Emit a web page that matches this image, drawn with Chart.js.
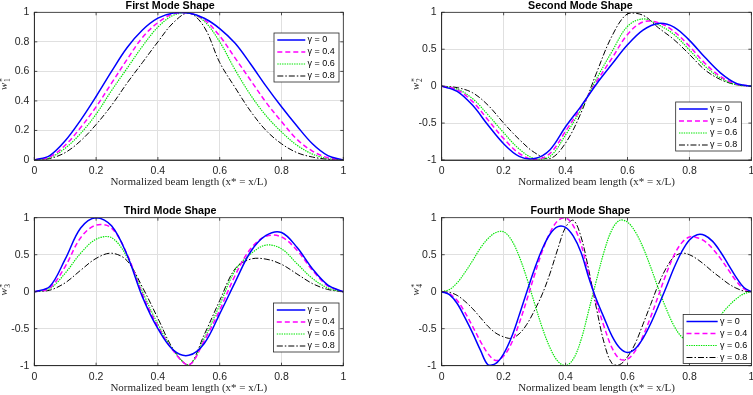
<!DOCTYPE html>
<html>
<head>
<meta charset="utf-8">
<script src="https://cdn.jsdelivr.net/npm/chart.js@4/dist/chart.umd.min.js"></script>
<style>
  html, body { margin: 0; padding: 0; background: #fff; overflow: hidden; width: 753px; height: 395px; }
  .panel { position: absolute; }
</style>
</head>
<body>
<div class="panel" style="left:-3px; top:0px; width:379px; height:190px"><canvas id="c1"></canvas></div>
<div class="panel" style="left:409px; top:0px; width:350px; height:190px"><canvas id="c2"></canvas></div>
<div class="panel" style="left:-3px; top:205px; width:379px; height:191px"><canvas id="c3"></canvas></div>
<div class="panel" style="left:409px; top:205px; width:350px; height:191px"><canvas id="c4"></canvas></div>
<script>
// legend labels (one per gamma value)
const gammaLabels = ['γ = 0', 'γ = 0.4', 'γ = 0.6', 'γ = 0.8'];

// x positions (normalized beam length)
const xGrid = [0, 0.05, 0.1, 0.15, 0.2, 0.25, 0.3, 0.35, 0.4, 0.45, 0.5,
               0.55, 0.6, 0.65, 0.7, 0.75, 0.8, 0.85, 0.9, 0.95, 1];
const xFine = [0, 0.025, 0.05, 0.075, 0.1, 0.125, 0.15, 0.175, 0.2, 0.225, 0.25,
               0.275, 0.3, 0.325, 0.35, 0.375, 0.4, 0.425, 0.45, 0.475, 0.5,
               0.525, 0.55, 0.575, 0.6, 0.625, 0.65, 0.675, 0.7, 0.725, 0.75,
               0.775, 0.8, 0.825, 0.85, 0.875, 0.9, 0.925, 0.95, 0.975, 1];

// first mode
const m1g00 = [0, 0.03, 0.13, 0.27, 0.43, 0.6, 0.76, 0.88, 0.96, 0.995, 0.995, 0.96, 0.89, 0.79, 0.65, 0.5, 0.36, 0.23, 0.11, 0.03, 0];
const m1g04 = [0, 0.02, 0.1, 0.22, 0.36, 0.52, 0.68, 0.83, 0.93, 0.99, 0.995, 0.95, 0.84, 0.69, 0.54, 0.39, 0.26, 0.14, 0.06, 0.015, 0];
const m1g06 = [0, 0.015, 0.08, 0.18, 0.31, 0.47, 0.62, 0.77, 0.9, 0.98, 0.995, 0.94, 0.8, 0.61, 0.44, 0.3, 0.19, 0.1, 0.04, 0.01, 0];
const m1g08 = [0, 0.01, 0.05, 0.13, 0.24, 0.37, 0.52, 0.66, 0.8, 0.93, 0.995, 0.9, 0.66, 0.49, 0.33, 0.2, 0.11, 0.05, 0.02, 0.005, 0];

// second mode
const m2g00 = [0, -0.07, -0.26, -0.53, -0.78, -0.95, -0.98, -0.86, -0.55, -0.27, 0.03, 0.3, 0.56, 0.76, 0.85, 0.8, 0.62, 0.39, 0.18, 0.04, 0];
const m2g04 = [0, -0.05, -0.21, -0.46, -0.71, -0.91, -0.995, -0.91, -0.61, -0.29, 0.06, 0.38, 0.7, 0.87, 0.86, 0.74, 0.54, 0.31, 0.13, 0.03, 0];
const m2g06 = [0, -0.04, -0.17, -0.39, -0.63, -0.85, -0.98, -0.95, -0.66, -0.31, 0.1, 0.47, 0.81, 0.91, 0.83, 0.7, 0.49, 0.27, 0.11, 0.02, 0];
const m2g08 = [0, -0.02, -0.09, -0.26, -0.5, -0.72, -0.9, -0.98, -0.77, -0.36, 0.18, 0.68, 0.98, 0.96, 0.79, 0.63, 0.43, 0.22, 0.09, 0.02, 0];

// third mode
const m3g00 = [0, 0.07, 0.44, 0.86, 1.0, 0.89, 0.5, -0.07, -0.5, -0.79, -0.86, -0.7, -0.3, 0.13, 0.54, 0.76, 0.8, 0.6, 0.31, 0.09, 0];
const m3g04 = [0, 0.05, 0.34, 0.73, 0.9, 0.86, 0.51, -0.04, -0.47, -0.8, -0.99, -0.66, -0.25, 0.22, 0.58, 0.75, 0.74, 0.56, 0.29, 0.08, 0];
const m3g06 = [0, 0.04, 0.25, 0.52, 0.71, 0.73, 0.47, 0.0, -0.44, -0.79, -0.99, -0.63, -0.18, 0.29, 0.51, 0.63, 0.58, 0.38, 0.18, 0.05, 0];
const m3g08 = [0, 0.02, 0.12, 0.29, 0.45, 0.52, 0.42, 0.06, -0.36, -0.78, -0.99, -0.58, -0.12, 0.31, 0.44, 0.44, 0.37, 0.24, 0.11, 0.03, 0];

// fourth mode (finer spacing)
const m4g00 = [0, -0.04, -0.16, -0.35, -0.56, -0.79, -0.99, -0.97, -0.84, -0.62, -0.32,
               0.0, 0.31, 0.58, 0.78, 0.88, 0.87, 0.75, 0.53, 0.19, -0.11,
               -0.36, -0.6, -0.76, -0.82, -0.77, -0.63, -0.43, -0.19, 0.06, 0.32,
               0.54, 0.7, 0.77, 0.76, 0.68, 0.54, 0.37, 0.2, 0.06, 0];
const m4g04 = [0, -0.03, -0.12, -0.28, -0.47, -0.67, -0.84, -0.93, -0.87, -0.7, -0.43,
               -0.11, 0.23, 0.55, 0.8, 0.96, 1.0, 0.89, 0.64, 0.23, -0.15,
               -0.48, -0.76, -0.91, -0.91, -0.8, -0.6, -0.34, -0.05, 0.24, 0.49,
               0.66, 0.74, 0.73, 0.68, 0.58, 0.45, 0.3, 0.15, 0.04, 0];
const m4g06 = [0, 0.03, 0.12, 0.26, 0.42, 0.59, 0.72, 0.8, 0.81, 0.7, 0.48,
               0.18, -0.16, -0.49, -0.76, -0.94, -1.0, -0.91, -0.65, -0.25, 0.16,
               0.55, 0.84, 0.965, 0.94, 0.81, 0.6, 0.33, 0.04, -0.23, -0.46,
               -0.61, -0.66, -0.64, -0.56, -0.45, -0.32, -0.2, -0.1, -0.03, 0];
const m4g08 = [0, -0.01, -0.05, -0.13, -0.23, -0.35, -0.47, -0.56, -0.61, -0.63, -0.57,
               -0.44, -0.25, -0.03, 0.25, 0.58, 0.87, 0.965, 0.74, 0.29, -0.23,
               -0.7, -0.97, -0.985, -0.88, -0.7, -0.44, -0.17, 0.1, 0.32, 0.47,
               0.52, 0.5, 0.44, 0.36, 0.27, 0.19, 0.11, 0.05, 0.01, 0];

// line look for each gamma (MATLAB b-, m--, g:, k-.)
const lineStyles = [
  { color: '#0000ff', width: 1.5, dash: [] },
  { color: '#ff00ff', width: 1.5, dash: [5, 3] },
  { color: '#00e600', width: 1.2, dash: [1.4, 1] },
  { color: '#000000', width: 1, dash: [6, 2, 1.5, 2] }
];

const SANS = '"Liberation Sans", Arial, Helvetica, sans-serif';
const SERIF = '"Liberation Serif", "DejaVu Serif", serif';
const AXIS_DARK = '#262626';

const tickText = v => String(Math.round(v * 100) / 100);

// box frame, inward ticks, y label w*_n and a legend drawn inside the axes (like MATLAB)
const matlabAxes = {
  id: 'matlabAxes',
  afterDatasetsDraw(chart, args, opts) {
    const { ctx, chartArea: a } = chart;
    const sx = chart.scales.x, sy = chart.scales.y;
    ctx.save();
    ctx.strokeStyle = AXIS_DARK;
    ctx.lineWidth = 0.8;
    ctx.beginPath();
    sx.ticks.forEach(t => {
      const p = sx.getPixelForValue(t.value);
      ctx.moveTo(p, a.bottom); ctx.lineTo(p, a.bottom - 3);
      ctx.moveTo(p, a.top); ctx.lineTo(p, a.top + 3);
    });
    sy.ticks.forEach(t => {
      const p = sy.getPixelForValue(t.value);
      ctx.moveTo(a.left, p); ctx.lineTo(a.left + 3, p);
      ctx.moveTo(a.right, p); ctx.lineTo(a.right - 3, p);
    });
    ctx.stroke();
    ctx.strokeRect(a.left, a.top, a.right - a.left, a.bottom - a.top);

    // y label: italic w with stacked * and subscript
    ctx.save();
    ctx.translate(sy.left + 6.6, (a.top + a.bottom) / 2 - 2);
    ctx.rotate(-Math.PI / 2);
    ctx.fillStyle = AXIS_DARK;
    ctx.textBaseline = 'alphabetic';
    ctx.font = 'italic 11px ' + SERIF;
    const ww = ctx.measureText('w').width;
    ctx.font = '7.5px ' + SERIF;
    const sw = Math.max(ctx.measureText('*').width, ctx.measureText(opts.mode).width);
    const x0 = -(ww + sw + 0.5) / 2;
    ctx.font = 'italic 11px ' + SERIF;
    ctx.fillText('w', x0, 3.5);
    ctx.font = '8px ' + SERIF;
    ctx.fillText('*', x0 + ww + 0.5, 1);
    ctx.font = '7.5px ' + SERIF;
    ctx.fillText(opts.mode, x0 + ww + 0.5, 6.5);
    ctx.restore();

    // legend
    const w = opts.w, h = opts.h;
    const bx = a.right - opts.right - w;
    const by = opts.top != null ? a.top + opts.top : a.bottom - opts.bottom - h;
    ctx.fillStyle = '#fff';
    ctx.fillRect(bx, by, w, h);
    ctx.strokeRect(bx, by, w, h);
    const len = w - 37;
    ctx.font = '9px ' + SANS;
    ctx.textBaseline = 'middle';
    chart.data.datasets.forEach((ds, i) => {
      const y = by + 7 + i * 12;
      ctx.save();
      ctx.strokeStyle = ds.borderColor;
      ctx.lineWidth = ds.borderWidth;
      ctx.setLineDash(ds.borderDash || []);
      ctx.beginPath();
      ctx.moveTo(bx + 3.3, y);
      ctx.lineTo(bx + 3.3 + len, y);
      ctx.stroke();
      ctx.restore();
      ctx.fillStyle = '#000';
      ctx.fillText(ds.label, bx + 5.5 + len, y);
    });
    ctx.restore();
  }
};

function makePanel(id, title, xs, series, yMin, yStep, axisW, padRight, padTop, xAxisH, opts) {
  const datasets = series.map((ys, i) => ({
    label: gammaLabels[i],
    data: xs.map((x, j) => ({ x: x, y: ys[j] })),
    borderColor: lineStyles[i].color,
    borderWidth: lineStyles[i].width,
    borderDash: lineStyles[i].dash,
    pointRadius: 0,
    tension: 0.35,
    fill: false
  }));

  return new Chart(document.getElementById(id), {
    type: 'line',
    data: { datasets: datasets },
    plugins: [matlabAxes],
    options: {
      responsive: true,
      maintainAspectRatio: false,
      animation: false,
      layout: { padding: { left: 0, right: padRight, top: padTop, bottom: 0 } },
      plugins: {
        legend: { display: false },
        tooltip: { enabled: false },
        title: {
          display: true,
          text: title,
          color: '#000',
          font: { family: SANS, size: 10.7, weight: 'bold', lineHeight: 1.15 },
          padding: { top: 0, bottom: 0 }
        },
        matlabAxes: opts
      },
      scales: {
        x: {
          type: 'linear',
          min: 0,
          max: 1,
          afterFit: s => { s.height = xAxisH; },
          ticks: { stepSize: 0.2, color: AXIS_DARK, padding: 4.7, maxRotation: 0,
                   font: { family: SANS, size: 10.5 }, callback: tickText },
          grid: { color: '#e0e0e0', lineWidth: 1, drawTicks: false },
          border: { display: true, color: AXIS_DARK, width: 0.8 },
          title: { display: true, text: 'Normalized beam length (x* = x/L)', color: AXIS_DARK,
                   font: { family: SERIF, size: 11 }, padding: { top: 0, bottom: 1 } }
        },
        y: {
          min: yMin,
          max: 1,
          afterFit: s => { s.width = axisW; },
          ticks: { stepSize: yStep, color: AXIS_DARK, padding: 5,
                   font: { family: SANS, size: 10.5 }, callback: tickText },
          grid: { color: '#e0e0e0', lineWidth: 1, drawTicks: false },
          border: { display: true, color: AXIS_DARK, width: 0.8 }
        }
      }
    }
  });
}

makePanel('c1', 'First Mode Shape', xGrid, [m1g00, m1g04, m1g06, m1g08], 0, 0.2,
          37.3, 32.7, 0, 30, { mode: '1', w: 65, h: 49, right: 4.3, top: 20.7 });
makePanel('c2', 'Second Mode Shape', xGrid, [m2g00, m2g04, m2g06, m2g08], -1, 0.5,
          32.7, 7.3, 0, 30, { mode: '2', w: 65.7, h: 49, right: 10, bottom: 9 });
makePanel('c3', 'Third Mode Shape', xGrid, [m3g00, m3g04, m3g06, m3g08], -1, 0.5,
          37.3, 32.7, 0.4, 30.3, { mode: '3', w: 65.5, h: 49, right: 4.3, bottom: 13.7 });
makePanel('c4', 'Fourth Mode Shape', xFine, [m4g00, m4g04, m4g06, m4g08], -1, 0.5,
          32.7, 7.3, 0.4, 30.3, { mode: '4', w: 68.2, h: 49, right: 0, bottom: 2.2 });
</script>
</body>
</html>
